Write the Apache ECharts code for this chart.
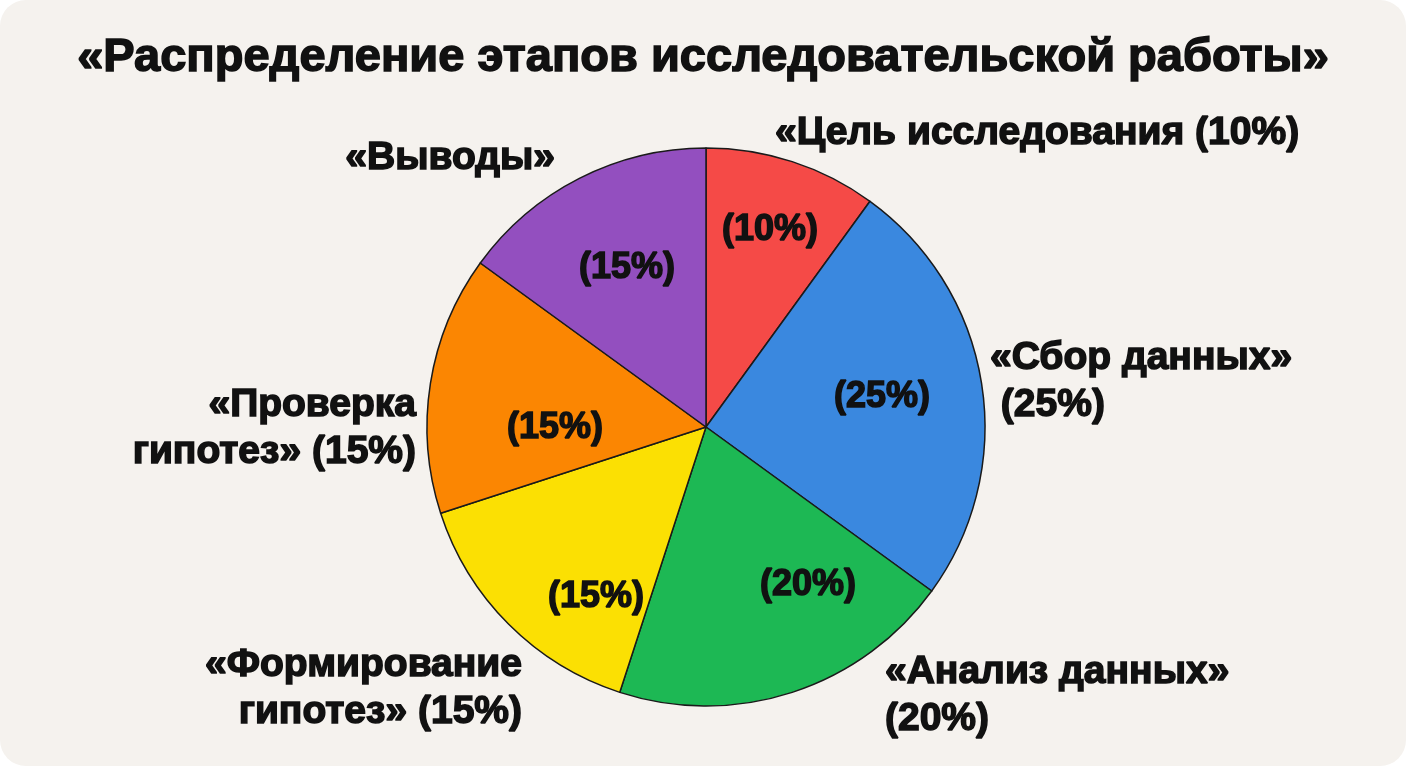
<!DOCTYPE html>
<html><head><meta charset="utf-8">
<script src="https://cdn.jsdelivr.net/npm/echarts@6/dist/echarts.min.js"></script>
<style>
html,body{margin:0;padding:0;background:#ffffff;width:1408px;height:768px;overflow:hidden}
#c{position:absolute;left:0;top:0;width:1406px;height:766px;background:#f5f2ee;border-radius:26px;}
</style></head><body><div id="c"></div>
<script>
const titleText = "«Распределение этапов исследовательской работы»";
const categories = ["Цель исследования", "Сбор данных", "Анализ данных", "Формирование гипотез", "Проверка гипотез", "Выводы"];
const values = [10, 25, 20, 15, 15, 15];
const outerLabels = ["«Цель исследования (10%)", "«Сбор данных»\n (25%)", "«Анализ данных»\n(20%)", "«Формирование\nгипотез» (15%)", "«Проверка\nгипотез» (15%)", "«Выводы»"];
const colors = ["#f54a47", "#3a88df", "#1db854", "#fbe003", "#fb8602", "#934fbf"];

const FONT = "'Liberation Sans', Arial, sans-serif";
const outerPos = [
  {x: 775, y: 133, align: 'left'},
  {x: 990, y: 382, align: 'left'},
  {x: 885, y: 696, align: 'left'},
  {x: 522, y: 689, align: 'right'},
  {x: 416, y: 429, align: 'right'},
  {x: 555, y: 158, align: 'right'}
];
const innerPos = [[770, 230], [882, 397], [808, 585], [596, 597], [555, 428], [627, 268]];

const chart = echarts.init(document.getElementById('c'), null, {renderer: 'canvas'});
const data = categories.map((n, i) => ({name: n, value: values[i], itemStyle: {color: colors[i]}}));
const center = [706, 427];
const radius = 279;
const txt = {fontFamily: FONT, fontWeight: 'bold', color: '#111', textBorderColor: '#111', textBorderWidth: 1.5};
chart.setOption({
  backgroundColor: 'transparent',
  title: {
    text: titleText, left: 'center', top: 30,
    textStyle: Object.assign({}, txt, {fontSize: 47})
  },
  series: [
    {
      type: 'pie', center: center, radius: radius, startAngle: 90, clockwise: true,
      animation: false, silent: true,
      itemStyle: {borderColor: '#1a1a1a', borderWidth: 1.5},
      label: Object.assign({show: true, position: 'inside', formatter: p => '(' + p.value + '%)', fontSize: 36}, txt),
      labelLine: {show: false},
      labelLayout: p => ({x: innerPos[p.dataIndex][0], y: innerPos[p.dataIndex][1], align: 'center', verticalAlign: 'middle'}),
      data: data
    },
    {
      type: 'pie', center: center, radius: radius, startAngle: 90, clockwise: true,
      animation: false, silent: true,
      itemStyle: {color: 'rgba(0,0,0,0)', borderWidth: 0},
      label: Object.assign({show: true, position: 'outside', formatter: p => outerLabels[p.dataIndex], fontSize: 39, lineHeight: 47}, txt),
      labelLine: {show: false},
      labelLayout: p => ({x: outerPos[p.dataIndex].x, y: outerPos[p.dataIndex].y, align: outerPos[p.dataIndex].align, verticalAlign: 'middle'}),
      data: categories.map((n, i) => ({name: n, value: values[i]}))
    }
  ]
});
</script></body></html>
